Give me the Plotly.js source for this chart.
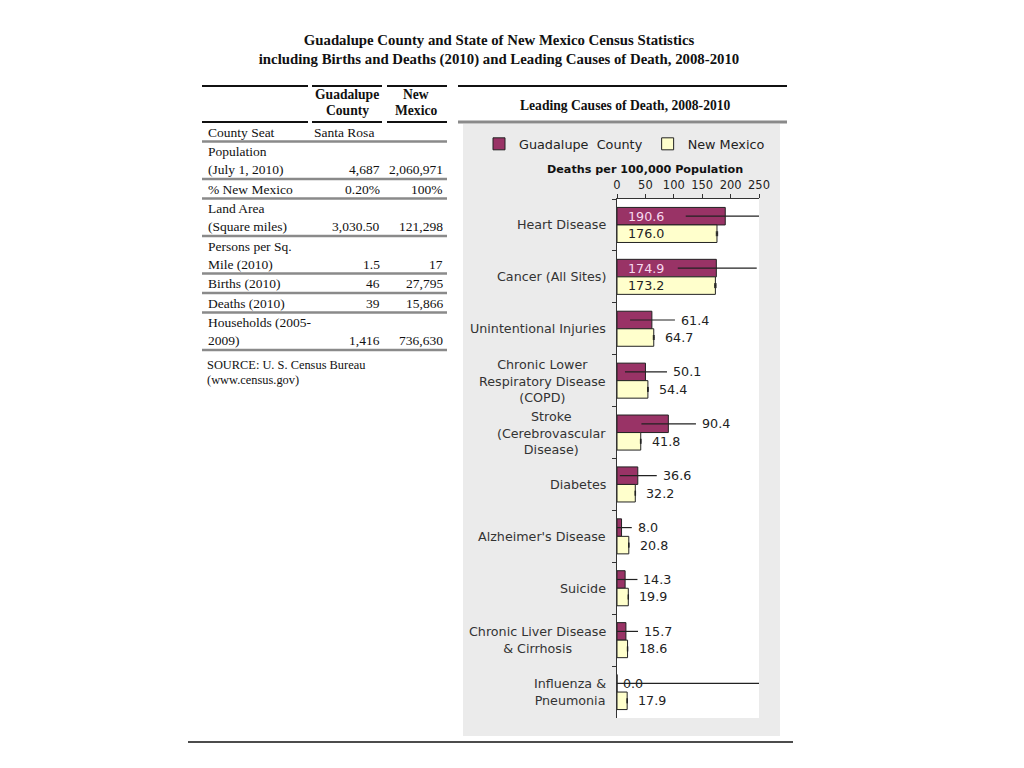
<!DOCTYPE html>
<html>
<head>
<meta charset="utf-8">
<script src="https://cdn.plot.ly/plotly-3.0.1.min.js"></script>
<style>
  html, body { margin: 0; padding: 0; background: #ffffff; }
  #chart { width: 1024px; height: 768px; }
</style>
</head>
<body>
<div id="chart"></div>
<script>
// ---------- DATA ----------
const categories = [
  'Heart Disease',
  'Cancer (All Sites)',
  'Unintentional Injuries',
  'Chronic Lower<br>Respiratory Disease<br>(COPD)',
  'Stroke<br>(Cerebrovascular<br>Disease)',
  'Diabetes',
  "Alzheimer's Disease",
  'Suicide',
  'Chronic Liver Disease<br>& Cirrhosis',
  'Influenza &<br>Pneumonia'
];
const countyRates = [190.6, 174.9, 61.4, 50.1, 90.4, 36.6, 8.0, 14.3, 15.7, 0.0];
const countyLow   = [121, 107, 23, 14, 43, 5, 0, 0, 0, 0];
const countyHigh  = [250, 246, 102, 88, 139, 70, 26, 36, 37, 250];
const stateRates  = [176.0, 173.2, 64.7, 54.4, 41.8, 32.2, 20.8, 19.9, 18.6, 17.9];
const stateLow    = [174.8, 172.0, 63.9, 53.7, 41.2, 31.7, 20.4, 19.5, 18.2, 17.5];
const stateHigh   = [177.2, 174.4, 65.5, 55.1, 42.4, 32.7, 21.2, 20.3, 19.0, 18.3];
const xTicks = [0, 50, 100, 150, 200, 250];

const tableLabels = [
  'County Seat',
  'Population<br>(July 1, 2010)',
  '% New Mexico',
  'Land Area<br>(Square miles)',
  'Persons per Sq.<br>Mile (2010)',
  'Births (2010)',
  'Deaths (2010)',
  'Households (2005-<br>2009)'
];
const tableCounty = ['Santa Rosa', '4,687', '0.20%', '3,030.50', '1.5', '46', '39', '1,416'];
const tableState  = ['', '2,060,971', '100%', '121,298', '17', '27,795', '15,866', '736,630'];
const tableHeaderCounty = 'Guadalupe<br>County';
const tableHeaderState = 'New<br>Mexico';
const sourceLines = ['SOURCE: U. S. Census Bureau', '(www.census.gov)'];

const titleText = 'Guadalupe County and State of New Mexico Census Statistics<br>including Births and Deaths (2010) and Leading Causes of Death, 2008-2010';
const chartHeader = 'Leading Causes of Death, 2008-2010';
const axisTitle = 'Deaths per 100,000 Population';
const seriesNames = ['Guadalupe  County', 'New Mexico'];

// ---------- HELPERS ----------
const W = 1024, H = 768;
const px = x => x / W;
const py = y => 1 - y / H;
const serif = 'Liberation Serif, Times New Roman, serif';
const sans = 'DejaVu Sans, Verdana, sans-serif';
const COUNTY = '#993366', STATE = '#ffffcc';

const shapes = [];
const annotations = [];

function hline(y, x0, x1, color, width) {
  shapes.push({type: 'line', xref: 'paper', yref: 'paper', x0: px(x0), x1: px(x1),
    y0: py(y), y1: py(y), line: {color: color, width: width}});
}
function text(t, x, y, opts) {
  annotations.push(Object.assign({
    text: t, xref: 'paper', yref: 'paper', x: px(x), y: py(y),
    showarrow: false, xanchor: 'left', yanchor: 'middle',
    font: {family: serif, size: 13.5, color: '#111'}
  }, opts || {}));
}
const boldSerif = {family: serif, size: 13.6, color: '#111', weight: 'bold'};

// Chart panel background & plot area
shapes.push({type: 'rect', xref: 'paper', yref: 'paper', x0: px(463), x1: px(780),
  y0: py(736), y1: py(124), fillcolor: '#ebebeb', line: {width: 0}, layer: 'below'});
shapes.push({type: 'rect', xref: 'x domain', yref: 'y domain', x0: 0, x1: 1, y0: 0, y1: 1,
  fillcolor: '#ffffff', line: {width: 0}, layer: 'below'});

// Header rules
const segs = [[202, 308], [312, 382], [387, 447]];
segs.forEach(s => { hline(86, s[0], s[1], '#111', 2); hline(122, s[0], s[1], '#111', 2); });
hline(86, 458, 787, '#111', 2);
hline(122, 458, 787, '#8a8a8a', 3);
hline(742, 188, 793, '#111', 1.5);

// Table header
tableHeaderCounty.split('<br>').forEach((t, i) => text(t, 347, 94 + 16.5 * i, {xanchor: 'center', font: boldSerif}));
tableHeaderState.split('<br>').forEach((t, i) => text(t, 416, 94 + 16.5 * i, {xanchor: 'center', font: boldSerif}));
text(chartHeader, 625, 105, {xanchor: 'center', font: boldSerif});

// Table body
let rowTop = 122;
tableLabels.forEach((lab, r) => {
  const lines = lab.split('<br>');
  lines.forEach((t, i) => text(t, 206, rowTop + 10 + 18 * i));
  const lastY = rowTop + 10 + 18 * (lines.length - 1);
  const cv = tableCounty[r];
  if (/^[\d.,%]+$/.test(cv)) text(cv, 382, lastY, {xanchor: 'right'});
  else text(cv, 312, lastY);
  if (tableState[r]) text(tableState[r], 445, lastY, {xanchor: 'right'});
  rowTop += 18 * lines.length + 1.5;
  hline(rowTop, 202, 447, '#8a8a8a', 2.5);
});
sourceLines.forEach((t, i) => text(t, 205, rowTop + 15 + 15 * i,
  {font: {family: serif, size: 12.4, color: '#111'}}));

// Axis title
text(axisTitle, 645, 170, {xanchor: 'center', font: {family: sans, size: 11.2, color: '#111', weight: 'bold'}});

// Category labels
categories.forEach(c => annotations.push({
  text: c, xref: 'paper', yref: 'y', x: px(608), y: c, xanchor: 'right', yanchor: 'middle',
  align: 'center', showarrow: false, font: {family: sans, size: 12.7, color: '#333'}
}));

// Value labels
countyRates.forEach((v, i) => {
  const inside = v > 150;
  const tip = countyHigh[i] >= 250 ? v : countyHigh[i];
  annotations.push({
    text: v.toFixed(1), xref: 'x', yref: 'y', x: inside ? 0 : tip, y: categories[i],
    xanchor: 'left', yanchor: 'middle', yshift: 8.7, xshift: inside ? 9 : 4, showarrow: false,
    font: {family: sans, size: 12.7, color: inside ? '#f7d9ef' : '#222'}
  });
});
stateRates.forEach((v, i) => {
  const inside = v > 150;
  annotations.push({
    text: v.toFixed(1), xref: 'x', yref: 'y', x: inside ? 0 : v, y: categories[i],
    xanchor: 'left', yanchor: 'middle', yshift: -8.7, xshift: 9, showarrow: false,
    font: {family: sans, size: 12.7, color: '#222'}
  });
});

// ---------- TRACES ----------
const traces = [
  {
    type: 'bar', orientation: 'h', name: seriesNames[0],
    x: countyRates, y: categories,
    marker: {color: COUNTY, line: {color: '#222', width: 1}},
    error_x: {type: 'data', symmetric: false,
      array: countyHigh.map((h, i) => h - countyRates[i]),
      arrayminus: countyLow.map((l, i) => countyRates[i] - l),
      color: '#222', thickness: 1.2, width: 0},
    hoverinfo: 'skip'
  },
  {
    type: 'bar', orientation: 'h', name: seriesNames[1],
    x: stateRates, y: categories,
    marker: {color: STATE, line: {color: '#222', width: 1}},
    error_x: {type: 'data', symmetric: false,
      array: stateHigh.map((h, i) => h - stateRates[i]),
      arrayminus: stateRates.map((v, i) => v - stateLow[i]),
      color: '#222', thickness: 1, width: 2.5},
    hoverinfo: 'skip'
  }
];

const layout = {
  width: W, height: H,
  margin: {l: 0, r: 0, t: 0, b: 0, pad: 0},
  paper_bgcolor: '#ffffff', plot_bgcolor: 'rgba(0,0,0,0)',
  font: {family: sans, color: '#222'},
  title: {text: titleText, x: px(499), xanchor: 'center', y: py(45), yanchor: 'middle',
    font: {family: serif, size: 14.8, color: '#111', weight: 'bold'}},
  barmode: 'group', bargap: 0.325, bargroupgap: 0,
  showlegend: true,
  legend: {orientation: 'h', x: px(479), y: py(129), xanchor: 'left', yanchor: 'top',
    itemwidth: 30, bgcolor: 'rgba(0,0,0,0)', font: {family: sans, size: 12.8, color: '#222'}, traceorder: 'normal'},
  xaxis: {
    domain: [px(617), px(759)], range: [0, 250], side: 'top', anchor: 'y',
    tickvals: xTicks, ticktext: xTicks.map(String), ticks: 'outside', ticklen: 4,
    tickcolor: '#333', showline: true, linecolor: '#333', linewidth: 1,
    showgrid: false, zeroline: false, tickfont: {family: sans, size: 11.5, color: '#222'}
  },
  yaxis: {
    domain: [py(718), py(199)], type: 'category', autorange: 'reversed', anchor: 'x',
    showticklabels: false, ticks: 'outside', tickson: 'boundaries', ticklen: 4,
    tickcolor: '#333', showline: true, linecolor: '#333', linewidth: 1,
    showgrid: false, zeroline: false
  },
  shapes: shapes,
  annotations: annotations
};

Plotly.newPlot('chart', traces, layout, {staticPlot: true, displayModeBar: false});
</script>
</body>
</html>
